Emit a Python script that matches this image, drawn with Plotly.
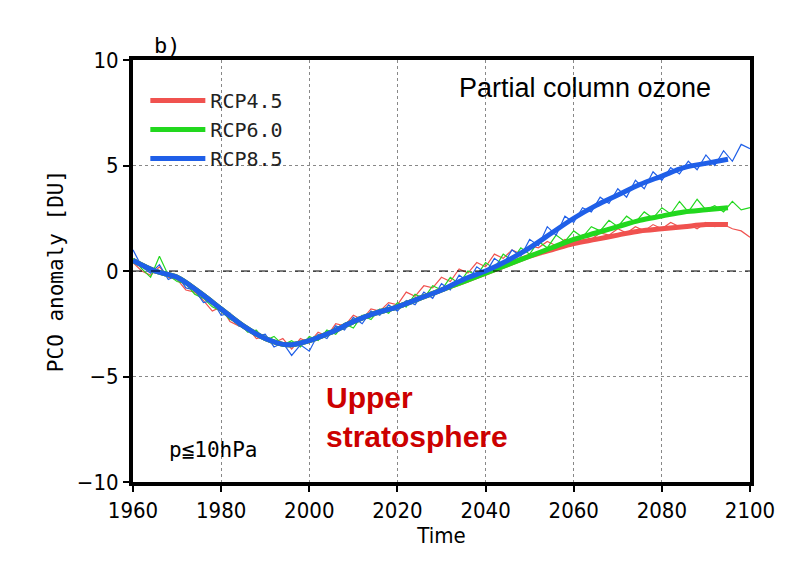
import plotly.graph_objects as go

# smoothed curves, 5-year steps from 1960
smooth_years = list(range(1960, 2100, 5))
common = [0.5, 0.0, -0.3, -1.0, -1.8, -2.6, -3.2, -3.5, -3.3, -2.9, -2.4, -2.0, -1.7, -1.3, -0.9]
rcp45_smooth = common + [-0.5, -0.1, 0.3, 0.7, 1.0, 1.3, 1.5, 1.7, 1.9, 2.0, 2.1, 2.2, 2.2]
rcp60_smooth = common + [-0.5, -0.1, 0.3, 0.7, 1.1, 1.5, 1.8, 2.1, 2.4, 2.6, 2.8, 2.9, 3.0]
rcp85_smooth = common + [-0.4, 0.0, 0.5, 1.1, 1.8, 2.5, 3.1, 3.6, 4.1, 4.5, 4.9, 5.1, 5.3]

# raw annual-ish curves, 2-year steps from 1960
rcp85_raw = [1.0, 0.2, -0.1, 0.3, -0.4, -0.2, -0.8, -0.9, -1.5, -1.4, -2.1, -2.0, -2.6, -2.7, -3.1, -3.0,
             -3.6, -3.4, -4.0, -3.5, -3.8, -3.0, -3.2, -2.6, -2.8, -2.2, -2.5, -1.9, -2.1, -1.6, -1.9, -1.4,
             -1.6, -1.0, -1.3, -0.6, -0.9, -0.2, -0.5, 0.2, -0.1, 0.6, 0.3, 1.0, 0.7, 1.5, 1.2, 2.1, 1.7,
             2.6, 2.3, 3.0, 2.8, 3.5, 3.2, 3.9, 3.5, 4.3, 3.9, 4.7, 4.3, 4.9, 4.6, 5.2, 4.8, 5.5, 5.0, 5.7,
             5.2, 6.0, 5.8]
rcp60_raw = [0.6, 0.1, -0.3, 0.7, -0.2, -0.5, -0.6, -1.1, -1.3, -1.7, -1.9, -2.3, -2.4, -2.9, -2.8, -3.3,
             -3.1, -3.5, -3.3, -3.6, -3.1, -3.3, -2.8, -3.0, -2.5, -2.7, -2.1, -2.3, -1.8, -2.0, -1.5, -1.7,
             -1.1, -1.3, -0.7, -0.9, -0.3, -0.6, 0.0, -0.2, 0.4, 0.1, 0.8, 0.5, 1.1, 0.8, 1.4, 1.1, 1.7,
             1.4, 1.9, 1.6, 2.1, 1.9, 2.4, 2.1, 2.6, 2.3, 2.8, 2.5, 3.0, 2.7, 3.3, 2.8, 3.4, 2.9, 3.1, 2.8,
             3.3, 2.9, 3.0]
rcp45_raw = [0.4, 0.0, -0.2, 0.2, -0.3, -0.4, -0.9, -1.0, -1.4, -1.9, -1.7, -2.4, -2.6, -2.7, -3.2, -3.1,
             -3.4, -3.2, -3.7, -3.2, -3.4, -2.9, -3.1, -2.5, -2.6, -2.1, -2.3, -1.8, -1.9, -1.5, -1.6, -1.0,
             -1.2, -0.7, -0.8, -0.3, -0.5, 0.1, -0.1, 0.4, 0.2, 0.8, 0.6, 1.0, 0.8, 1.2, 1.1, 1.4, 1.2,
             1.5, 1.4, 1.7, 1.5, 1.8, 1.7, 2.0, 1.8, 2.1, 1.9, 2.2, 2.0, 2.3, 2.1, 2.2, 2.0, 2.3, 2.1, 2.2,
             2.0, 1.9, 1.6]
raw_years = list(range(1960, 1960 + 2 * len(rcp85_raw), 2))

names = ["RCP4.5", "RCP6.0", "RCP8.5"]
colors = ["#f0524f", "#22d81e", "#1f5fe8"]
smooths = [rcp45_smooth, rcp60_smooth, rcp85_smooth]
raws = [rcp45_raw, rcp60_raw, rcp85_raw]

fig = go.Figure()
for name, c, s, r in zip(names, colors, smooths, raws):
    fig.add_trace(go.Scatter(x=raw_years, y=r, mode="lines", line=dict(color=c, width=1.2),
                             showlegend=False))
for name, c, s in zip(names, colors, smooths):
    fig.add_trace(go.Scatter(x=smooth_years, y=s, mode="lines", line=dict(color=c, width=5, shape="spline"),
                             name=name))

fig.add_hline(y=0, line=dict(color="black", width=1, dash="dash"))

axis = dict(showline=True, linecolor="black", linewidth=4, mirror=True, ticks="outside",
            ticklen=6, tickwidth=2, tickcolor="black", showgrid=True, gridcolor="#888",
            griddash="dot", gridwidth=1, zeroline=False,
            tickfont=dict(family="DejaVu Sans Condensed", size=22, color="black"))
fig.update_xaxes(**axis, range=[1960, 2100], dtick=20,
                 title=dict(text="Time", font=dict(family="DejaVu Sans Condensed", size=22), standoff=4))
fig.update_yaxes(**axis, range=[-10, 10], dtick=5,
                 title=dict(text="PCO anomaly [DU]", font=dict(family="DejaVu Sans Mono", size=21), standoff=8))

fig.update_layout(
    width=787, height=561, margin=dict(l=125, r=45, t=52, b=87),
    plot_bgcolor="white", paper_bgcolor="white",
    font=dict(color="black"),
    legend=dict(x=0.02, y=0.95, bgcolor="rgba(0,0,0,0)", itemwidth=55,
                font=dict(family="DejaVu Sans Mono", size=20, color="#222"), tracegroupgap=0),
    annotations=[
        dict(text="b)", xref="paper", yref="paper", x=0.03, y=1.0, xanchor="left", yanchor="bottom",
             showarrow=False, font=dict(family="DejaVu Sans Mono", size=22)),
        dict(text="Partial column ozone", xref="paper", yref="paper", x=0.94, y=0.975, xanchor="right",
             yanchor="top", showarrow=False, font=dict(family="Liberation Sans", size=27)),
        dict(text="<b>Upper<br>stratosphere</b>", xref="paper", yref="paper", x=0.31, y=0.155,
             xanchor="left", yanchor="middle", align="left", showarrow=False,
             font=dict(family="Liberation Sans", size=30, color="#cc0000")),
        dict(text="p≦10hPa", xref="paper", yref="paper", x=0.055, y=0.075, xanchor="left",
             yanchor="middle", showarrow=False, font=dict(family="DejaVu Sans Mono", size=21)),
    ],
)

fig.write_html("out.html")
